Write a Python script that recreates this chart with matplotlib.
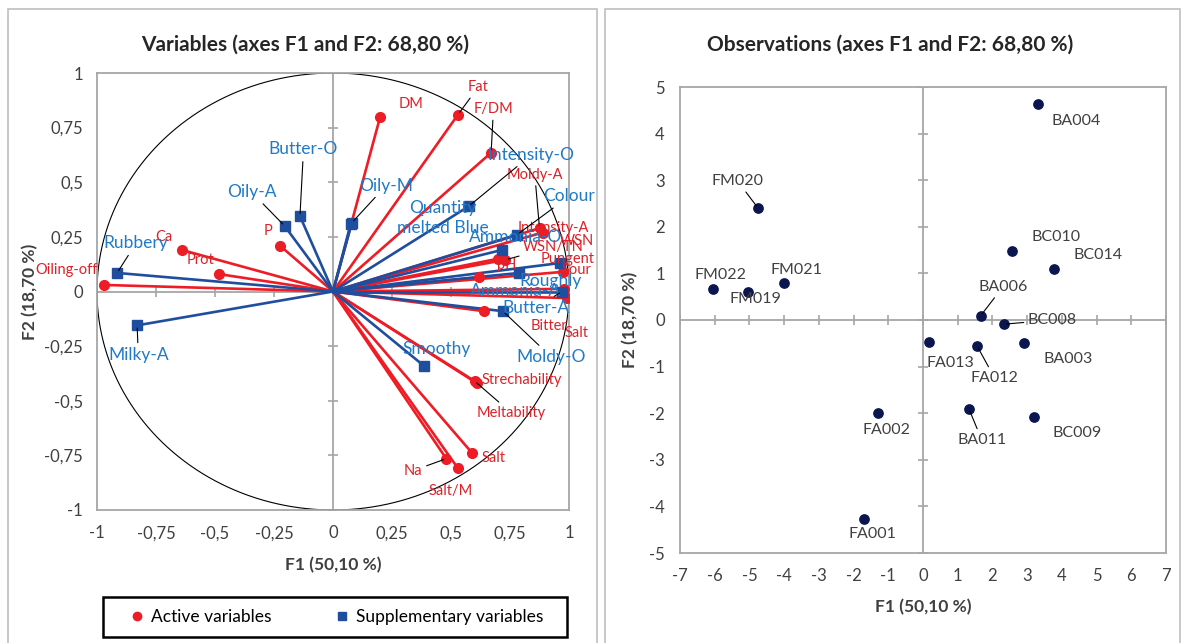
import numpy as np
import matplotlib.pyplot as plt
from matplotlib.patches import Rectangle
from matplotlib.lines import Line2D

plt.rcParams['font.family'] = ['Lato', 'DejaVu Sans']

# ---- active variables (loadings on F1, F2)
act_names = ['DM', 'Fat', 'F/DM', 'Moldy-A', 'Intensity-A', 'WSN', 'WSN/TN', 'pH',
             'Pungent', 'Sour', 'Bitter', 'Salt', 'Strechability', 'Meltability',
             'Salt', 'Na', 'Salt/M', 'Ca', 'Prot', 'P', 'Oiling-off']
act_f1 = [0.20, 0.53, 0.67, 0.875, 0.89, 0.70, 0.73, 0.62, 0.975, 0.98, 0.64, 0.99,
          0.61, 0.60, 0.59, 0.48, 0.53, -0.64, -0.485, -0.225, -0.97]
act_f2 = [0.80, 0.81, 0.635, 0.29, 0.27, 0.15, 0.145, 0.065, 0.09, 0.012, -0.09, -0.03,
          -0.42, -0.41, -0.74, -0.765, -0.81, 0.19, 0.08, 0.21, 0.03]

# ---- supplementary variables
sup_names = ['Butter-O', 'Oily-A', 'Oily-M', 'Quantity\nmelted Blue', 'Intensity-O',
             'Colour', 'Ammonia-O', 'Roughly', 'Ammonia-A', 'Butter-A', 'Moldy-O',
             'Smoothy', 'Rubbery', 'Milky-A']
sup_f1 = [-0.14, -0.205, 0.08, 0.075, 0.575, 0.78, 0.715, 0.96, 0.79, 0.97, 0.72,
          0.385, -0.915, -0.83]
sup_f2 = [0.345, 0.30, 0.315, 0.31, 0.39, 0.26, 0.19, 0.13, 0.085, 0.0, -0.09,
          -0.34, 0.085, -0.155]

# ---- observations
obs_names = ['BA004', 'FM020', 'BC010', 'BC014', 'FM022', 'FM021', 'FM019', 'BA006',
             'BC008', 'FA013', 'FA012', 'BA003', 'FA002', 'BA011', 'BC009', 'FA001']
obs_f1 = [3.32, -4.75, 2.57, 3.78, -6.04, -4.01, -5.05, 1.66,
          2.33, 0.18, 1.56, 2.91, -1.29, 1.32, 3.20, -1.71]
obs_f2 = [4.63, 2.40, 1.48, 1.09, 0.66, 0.79, 0.60, 0.09,
          -0.09, -0.48, -0.56, -0.49, -2.00, -1.90, -2.09, -4.26]

# ---- tick labels
var_ticks = [-1, -0.75, -0.5, -0.25, 0, 0.25, 0.5, 0.75, 1]
var_ticklabels = ['-1', '-0,75', '-0,5', '-0,25', '0', '0,25', '0,5', '0,75', '1']
obs_xticks = list(range(-7, 8))
obs_yticks = list(range(-5, 6))

# label placement (layout only)
act_lab = [(0.33, 0.86), (0.615, 0.935), (0.68, 0.835), (0.855, 0.535), (0.935, 0.29),
           (1.035, 0.23), (0.935, 0.205), (0.735, 0.12), (0.995, 0.15), (1.03, 0.10),
           (0.915, -0.16), (1.03, -0.19), (0.80, -0.405), (0.755, -0.555), (0.68, -0.76),
           (0.34, -0.82), (0.50, -0.915), (-0.715, 0.25), (-0.56, 0.145), (-0.275, 0.275),
           (-1.13, 0.10)]
act_lead = {'Fat', 'F/DM', 'Moldy-A', 'WSN/TN', 'Meltability', 'Na'}
sup_lab = [(-0.125, 0.65), (-0.345, 0.455), (0.225, 0.485), (0.465, 0.335), (0.84, 0.625),
           (1.0, 0.435), (0.775, 0.25), (0.92, 0.05), (0.775, 0.0), (0.86, -0.075),
           (0.925, -0.30), (0.44, -0.265), (-0.835, 0.22), (-0.825, -0.29)]
sup_lead = {'Butter-O', 'Oily-A', 'Oily-M', 'Intensity-O', 'Colour', 'Butter-A',
            'Moldy-O', 'Rubbery', 'Milky-A'}
obs_lab = [(4.40, 4.26), (-5.34, 2.98), (3.82, 1.78), (5.03, 1.39), (-5.82, 0.96),
           (-3.64, 1.07), (-4.82, 0.45), (2.30, 0.71), (3.73, 0.0), (0.80, -0.92),
           (2.06, -1.24), (4.17, -0.84), (-1.05, -2.36), (1.69, -2.57), (4.43, -2.42),
           (-1.45, -4.59)]
obs_lead = {'FM020', 'BA006', 'BC008', 'FA012', 'BA011'}

RED = '#ee1c25'
RED_TXT = '#dc2229'
BLUE = '#1f4e9e'
BLUE_TXT = '#1f7ac8'
NAVY = '#0b1650'
GRID = '#a6a6a6'
TXT = '#404040'

fig = plt.figure(figsize=(11.81, 6.43), dpi=100)

# panel frames
for x0, x1 in [(8, 597), (605, 1180)]:
    fig.patches.append(Rectangle((x0 / 1181, -0.05), (x1 - x0) / 1181, 1.05 - 9 / 643,
                                 transform=fig.transFigure, fill=False,
                                 edgecolor='#bfbfbf', lw=1.2))

ax1 = fig.add_axes([97 / 1181, 1 - 510 / 643, 472 / 1181, 437 / 643])
ax2 = fig.add_axes([680 / 1181, 1 - 553 / 643, 486 / 1181, 466 / 643])

def style_axes(ax, xt, yt, xl, yl, xpad, ypad):
    ax.set_xlim(xt[0], xt[-1])
    ax.set_ylim(yt[0], yt[-1])
    ax.set_xticks(xt)
    ax.set_yticks(yt)
    ax.set_xticklabels(xl)
    ax.set_yticklabels(yl)
    ax.tick_params(axis='x', length=0, labelsize=12, colors=TXT, pad=xpad)
    ax.tick_params(axis='y', length=0, labelsize=12, colors=TXT, pad=ypad)
    for s in ax.spines.values():
        s.set_color(GRID)
        s.set_linewidth(1.3)
    ax.axhline(0, color=GRID, lw=1.3, zorder=0)
    ax.axvline(0, color=GRID, lw=1.3, zorder=0)
    ax.plot(xt, [0] * len(xt), ls='none', marker='|', ms=7, color=GRID, mew=1.2, zorder=0)
    ax.plot([0] * len(yt), yt, ls='none', marker='_', ms=7, color=GRID, mew=1.2, zorder=0)

# ---------------- left: variables
style_axes(ax1, var_ticks, var_ticks, var_ticklabels, var_ticklabels, 11, 10)
th = np.linspace(0, 2 * np.pi, 400)
ax1.plot(np.cos(th), np.sin(th), color='black', lw=0.8, zorder=1)

for x, y in zip(act_f1, act_f2):
    ax1.plot([0, x], [0, y], color=RED, lw=1.9, zorder=2)
ax1.plot(act_f1, act_f2, 'o', color=RED, ms=7, ls='none', zorder=3)
for x, y in zip(sup_f1, sup_f2):
    ax1.plot([0, x], [0, y], color=BLUE, lw=1.9, zorder=2)
ax1.plot(sup_f1, sup_f2, 's', color=BLUE, ms=7, ls='none', zorder=3)

for n, x, y, (lx, ly) in zip(act_names, act_f1, act_f2, act_lab):
    ap = dict(arrowstyle='-', color='black', lw=0.8, shrinkA=1, shrinkB=2) if n in act_lead else None
    ax1.annotate(n, (x, y), xytext=(lx, ly), color=RED_TXT, fontsize=10.5, ha='center',
                 va='center', arrowprops=ap, annotation_clip=False, zorder=4)
for n, x, y, (lx, ly) in zip(sup_names, sup_f1, sup_f2, sup_lab):
    ap = dict(arrowstyle='-', color='black', lw=0.8, shrinkA=1, shrinkB=2) if n in sup_lead else None
    ax1.annotate(n, (x, y), xytext=(lx, ly), color=BLUE_TXT, fontsize=12.5, ha='center',
                 va='center', arrowprops=ap, annotation_clip=False, zorder=4,
                 linespacing=1.3)

ax1.set_xlabel('F1 (50,10 %)', fontsize=12.5, fontweight='bold', color=TXT)
ax1.set_ylabel('F2 (18,70 %)', fontsize=12.5, fontweight='bold', color=TXT)
ax1.xaxis.set_label_coords(0.5, -0.108)
ax1.yaxis.set_label_coords(-0.125, 0.5)

# ---------------- right: observations
style_axes(ax2, obs_xticks, obs_yticks, [str(v) for v in obs_xticks],
           [str(v) for v in obs_yticks], 11, 11)
ax2.scatter(obs_f1, obs_f2, s=45, color=NAVY, zorder=3)
for n, x, y, (lx, ly) in zip(obs_names, obs_f1, obs_f2, obs_lab):
    ap = dict(arrowstyle='-', color='black', lw=0.8, shrinkA=1, shrinkB=2) if n in obs_lead else None
    ax2.annotate(n, (x, y), xytext=(lx, ly), color=TXT, fontsize=11.5, ha='center',
                 va='center', arrowprops=ap, annotation_clip=False, zorder=4)
ax2.set_xlabel('F1 (50,10 %)', fontsize=12.5, fontweight='bold', color=TXT)
ax2.set_ylabel('F2 (18,70 %)', fontsize=12.5, fontweight='bold', color=TXT)
ax2.xaxis.set_label_coords(0.5, -0.099)
ax2.yaxis.set_label_coords(-0.086, 0.5)

# titles
fig.text(305 / 1181, 1 - 45 / 643, 'Variables (axes F1 and F2: 68,80 %)', ha='center',
         va='center', fontsize=15, fontweight='bold', color='#262626')
fig.text(890 / 1181, 1 - 45 / 643, 'Observations (axes F1 and F2: 68,80 %)', ha='center',
         va='center', fontsize=15, fontweight='bold', color='#262626')

# legend
fig.patches.append(Rectangle((103 / 1181, 1 - 637 / 643), 464 / 1181, 40 / 643,
                             transform=fig.transFigure, fill=False, edgecolor='black',
                             lw=1.8))
handles = [Line2D([], [], marker='o', color=RED, ls='none', ms=6),
           Line2D([], [], marker='s', color=BLUE, ls='none', ms=6)]
fig.legend(handles, ['Active variables', 'Supplementary variables'], loc='center',
           bbox_to_anchor=(335 / 1181, 1 - 617 / 643), ncol=2, frameon=False,
           fontsize=12.5, columnspacing=3.5, handletextpad=0.2, handlelength=1.2)

fig.savefig('out.png', dpi=100)
